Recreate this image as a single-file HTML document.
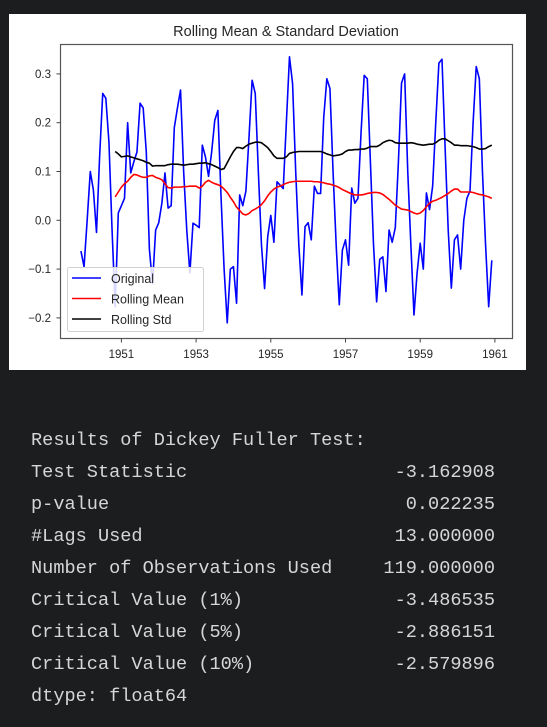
<!DOCTYPE html>
<html><head><meta charset="utf-8">
<style>
html,body{margin:0;padding:0;}
body{width:547px;height:727px;background:#1c1d1f;position:relative;overflow:hidden;}
#chart{position:absolute;left:0;top:0;}
.out{position:absolute;left:31px;font-family:"Liberation Mono",monospace;font-size:18.6px;color:#d6d6d6;white-space:pre;line-height:20px;}
.val{position:absolute;right:52px;font-family:"Liberation Mono",monospace;font-size:18.6px;color:#d6d6d6;white-space:pre;line-height:20px;}
</style></head>
<body>
<svg id="chart" width="547" height="380" xmlns="http://www.w3.org/2000/svg" font-family="Liberation Sans, DejaVu Sans, sans-serif">
<rect x="9" y="14" width="517" height="356" fill="#ffffff"/>
<text x="286" y="36" text-anchor="middle" font-size="14.5" fill="#262626">Rolling Mean &amp; Standard Deviation</text>
<g id="plot"></g>
<rect x="60.5" y="44.5" width="452" height="294" fill="none" stroke="#555" stroke-width="1.2"/>
<g id="axes"></g>
<g>
<rect x="67.5" y="267.5" width="136" height="64" rx="2" fill="#ffffff" fill-opacity="0.85" stroke="#d0d0d0"/>
<line x1="72" y1="278" x2="101" y2="278" stroke="#0000ff" stroke-width="1.6"/>
<text x="111" y="283" font-size="12.5" fill="#262626">Original</text>
<line x1="72" y1="298.5" x2="101" y2="298.5" stroke="#ff0000" stroke-width="1.6"/>
<text x="111" y="303.5" font-size="12.5" fill="#262626">Rolling Mean</text>
<line x1="72" y1="319" x2="101" y2="319" stroke="#000000" stroke-width="1.6"/>
<text x="111" y="324" font-size="12.5" fill="#262626">Rolling Std</text>
</g>
</svg>

<div class="out" style="top:431px">Results of Dickey Fuller Test:</div>
<div class="out" style="top:463px">Test Statistic</div>
<div class="val" style="top:463px">-3.162908</div>
<div class="out" style="top:495px">p-value</div>
<div class="val" style="top:495px">0.022235</div>
<div class="out" style="top:527px">#Lags Used</div>
<div class="val" style="top:527px">13.000000</div>
<div class="out" style="top:559px">Number of Observations Used</div>
<div class="val" style="top:559px">119.000000</div>
<div class="out" style="top:591px">Critical Value (1%)</div>
<div class="val" style="top:591px">-3.486535</div>
<div class="out" style="top:623px">Critical Value (5%)</div>
<div class="val" style="top:623px">-2.886151</div>
<div class="out" style="top:655px">Critical Value (10%)</div>
<div class="val" style="top:655px">-2.579896</div>
<div class="out" style="top:687px">dtype: float64</div>

<script>
// Monthly series starting Dec 1949
const startYear = 1949 + 11/12;
const original = [-0.063,-0.095,0.0,0.10,0.062,-0.025,0.13,0.26,0.25,0.16,-0.02,-0.177,
0.015,0.03,0.045,0.20,0.097,0.12,0.14,0.24,0.23,0.14,-0.06,-0.13,
-0.02,-0.005,0.035,0.097,0.025,0.03,0.19,0.23,0.267,0.1,-0.02,-0.108,
-0.006,-0.01,-0.015,0.154,0.13,0.09,0.14,0.205,0.225,0.05,-0.1,-0.21,
-0.10,-0.095,-0.17,0.052,0.03,0.06,0.17,0.287,0.26,0.1,-0.05,-0.14,
-0.034,0.01,-0.045,0.079,0.072,0.065,0.2,0.335,0.28,0.1,-0.05,-0.153,
-0.013,-0.005,-0.04,0.07,0.055,0.055,0.21,0.29,0.27,0.1,-0.05,-0.173,
-0.061,-0.04,-0.092,0.066,0.035,0.045,0.18,0.297,0.29,0.12,-0.05,-0.167,
-0.08,-0.075,-0.146,-0.02,-0.045,-0.015,0.12,0.281,0.30,0.1,-0.05,-0.194,
-0.108,-0.047,-0.1,0.056,0.022,0.07,0.2,0.322,0.33,0.15,-0.02,-0.139,
-0.04,-0.03,-0.1,0.0,0.045,0.06,0.2,0.315,0.29,0.1,-0.05,-0.177,-0.082];
// Rolling stats start at index 11 (Nov 1950)
const rollStart = 11;
const rollingMean = [0.048,0.058,0.068,0.075,0.08,0.088,0.094,0.093,0.09,0.088,0.088,0.091,0.092,
0.088,0.086,0.083,0.075,0.067,0.066,0.068,0.068,0.068,0.069,0.069,0.07,
0.07,0.07,0.066,0.07,0.078,0.082,0.078,0.075,0.073,0.07,0.064,0.057,
0.047,0.038,0.027,0.02,0.013,0.011,0.014,0.02,0.023,0.027,0.032,0.04,
0.05,0.058,0.064,0.068,0.07,0.073,0.076,0.078,0.079,0.08,0.08,0.08,
0.08,0.08,0.08,0.079,0.079,0.078,0.077,0.075,0.074,0.072,0.07,0.067,
0.063,0.06,0.057,0.054,0.052,0.052,0.052,0.053,0.055,0.056,0.057,0.057,
0.056,0.053,0.048,0.043,0.037,0.031,0.027,0.023,0.022,0.021,0.018,0.015,
0.013,0.015,0.02,0.028,0.035,0.039,0.041,0.044,0.047,0.051,0.055,0.06,
0.064,0.064,0.058,0.058,0.058,0.058,0.057,0.055,0.053,0.052,0.05,0.048,0.045];
const rollingStd = [0.141,0.136,0.130,0.131,0.132,0.130,0.128,0.126,0.124,0.122,0.119,0.117,0.111,
0.112,0.112,0.112,0.112,0.114,0.115,0.115,0.115,0.114,0.113,0.114,0.115,
0.115,0.116,0.117,0.117,0.118,0.116,0.114,0.111,0.108,0.104,0.106,0.118,
0.130,0.141,0.149,0.149,0.147,0.152,0.156,0.158,0.160,0.160,0.159,0.154,
0.149,0.141,0.132,0.127,0.127,0.127,0.130,0.137,0.139,0.140,0.141,0.141,
0.141,0.141,0.141,0.141,0.141,0.141,0.139,0.136,0.134,0.132,0.133,0.134,
0.136,0.141,0.144,0.144,0.145,0.145,0.146,0.146,0.148,0.151,0.151,0.151,
0.154,0.159,0.162,0.164,0.163,0.159,0.158,0.158,0.158,0.158,0.159,0.158,
0.156,0.155,0.154,0.155,0.156,0.156,0.159,0.164,0.167,0.167,0.163,0.159,
0.154,0.154,0.153,0.153,0.153,0.152,0.151,0.149,0.146,0.146,0.147,0.151,0.154];
const yTicks = [-0.2,-0.1,0.0,0.1,0.2,0.3];
const yTickLabels = ["\u22120.2","\u22120.1","0.0","0.1","0.2","0.3"];
const xTicks = [1951,1953,1955,1957,1959,1961];
const xTickLabels = ["1951","1953","1955","1957","1959","1961"];

const NS = "http://www.w3.org/2000/svg";
function xScale(yr){ return 121.4 + (yr - 1951) * 37.35; }
function yScale(v){ return 220.3 - v * 488; }
function tOf(i){ return startYear + i/12; }

const plot = document.getElementById('plot');
function addLine(vals, offset, color, name){
  const pts = vals.map((v,k)=> xScale(tOf(k+offset)).toFixed(2)+","+yScale(v).toFixed(2)).join(" ");
  const pl = document.createElementNS(NS,'polyline');
  pl.setAttribute('points', pts);
  pl.setAttribute('fill','none');
  pl.setAttribute('stroke', color);
  pl.setAttribute('stroke-width','1.6');
  pl.setAttribute('stroke-linejoin','round');
  
  
  plot.appendChild(pl);
}
addLine(original, 0, '#0000ff', 'original-series-line');
addLine(rollingMean, rollStart, '#ff0000', 'rolling-mean-line');
addLine(rollingStd, rollStart, '#000000', 'rolling-std-line');

const axes = document.getElementById('axes');
yTicks.forEach((v,k)=>{
  const y = yScale(v);
  const ln = document.createElementNS(NS,'line');
  ln.setAttribute('x1', 56.5); ln.setAttribute('x2', 60.5);
  ln.setAttribute('y1', y); ln.setAttribute('y2', y);
  ln.setAttribute('stroke', '#444');
  
  
  axes.appendChild(ln);
  const t = document.createElementNS(NS,'text');
  t.setAttribute('x', 51); t.setAttribute('y', y + 4);
  t.setAttribute('text-anchor','end'); t.setAttribute('font-size','11.5'); t.setAttribute('fill','#262626');
  t.textContent = yTickLabels[k];
  
  
  axes.appendChild(t);
});
xTicks.forEach((yr,k)=>{
  const x = xScale(yr);
  const ln = document.createElementNS(NS,'line');
  ln.setAttribute('x1', x); ln.setAttribute('x2', x);
  ln.setAttribute('y1', 338.5); ln.setAttribute('y2', 342.5);
  ln.setAttribute('stroke', '#444');
  
  
  axes.appendChild(ln);
  const t = document.createElementNS(NS,'text');
  t.setAttribute('x', x); t.setAttribute('y', 358);
  t.setAttribute('text-anchor','middle'); t.setAttribute('font-size','11.5'); t.setAttribute('fill','#262626');
  t.textContent = xTickLabels[k];
  
  
  axes.appendChild(t);
});
</script>
</body></html>
